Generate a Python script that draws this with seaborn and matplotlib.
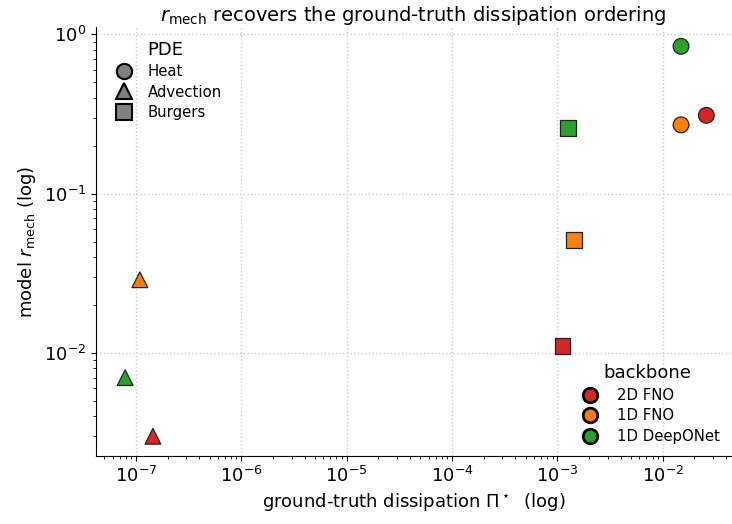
import pandas as pd
import matplotlib
matplotlib.use('Agg')
import matplotlib.pyplot as plt
import seaborn as sns
from matplotlib.lines import Line2D

# values
backbone = ['1D DeepONet', '2D FNO', '1D FNO',
            '1D DeepONet', '1D FNO', '2D FNO',
            '1D FNO', '1D DeepONet', '2D FNO']
pde = ['Heat', 'Heat', 'Heat',
       'Burgers', 'Burgers', 'Burgers',
       'Advection', 'Advection', 'Advection']
pi_star = [0.0149, 0.0259, 0.0149,
           0.00127, 0.00144, 0.00112,
           1.09e-7, 7.9e-8, 1.45e-7]
r_mech = [0.84, 0.31, 0.27,
          0.257, 0.051, 0.0111,
          0.0288, 0.0070, 0.0030]

backbones = ['2D FNO', '1D FNO', '1D DeepONet']
pdes = ['Heat', 'Advection', 'Burgers']
colors = {'2D FNO': 'tab:red', '1D FNO': 'tab:orange', '1D DeepONet': 'tab:green'}
marks = {'Heat': 'o', 'Advection': '^', 'Burgers': 's'}

df = pd.DataFrame({'backbone': backbone, 'pde': pde, 'pi': pi_star, 'r': r_mech})

sns.set_style('ticks', {'text.color': 'black', 'axes.labelcolor': 'black',
                        'xtick.color': 'black', 'ytick.color': 'black',
                        'axes.edgecolor': 'black'})
fig, ax = plt.subplots(figsize=(7.32, 5.24), dpi=100)
fig.subplots_adjust(left=0.131, right=0.999, bottom=0.130, top=0.948)

sns.scatterplot(data=df, x='pi', y='r', hue='backbone', style='pde',
                palette=colors, markers=marks, s=128,
                edgecolor='#222222', linewidth=0.9, legend=False, ax=ax, zorder=3)

ax.set_xscale('log')
ax.set_yscale('log')
ax.set_xlim(10**-7.38, 10**-1.35)
ax.set_ylim(10**-2.646, 10**0.044)
ax.grid(True, which='major', linestyle=':', color='#cccccc', linewidth=1)
sns.despine(ax=ax)
ax.tick_params(axis='both', which='major', labelsize=13)

ax.set_xlabel(r'ground-truth dissipation $\Pi^\star$  (log)', fontsize=13)
ax.set_ylabel(r'model $r_{\mathrm{mech}}$ (log)', fontsize=13)
ax.set_title(r'$r_{\mathrm{mech}}$ recovers the ground-truth dissipation ordering',
             fontsize=14, pad=4)

pde_handles = [Line2D([], [], marker=marks[p], color='none', markerfacecolor='grey',
                      markeredgecolor='black', markeredgewidth=1.5, markersize=11, label=p)
               for p in pdes]
leg1 = ax.legend(handles=pde_handles, title='PDE', loc='upper left', frameon=False,
                 fontsize=10.7, title_fontsize=13, handletextpad=0.6, labelspacing=0.37)
ax.add_artist(leg1)

bb_handles = [Line2D([], [], marker='o', color='none', markerfacecolor=colors[b],
                     markeredgecolor='black', markeredgewidth=2, markersize=10.5, label=b)
              for b in backbones]
ax.legend(handles=bb_handles, title='backbone', loc='lower right', frameon=False,
          fontsize=10.7, title_fontsize=13, borderaxespad=0.4, labelspacing=0.37)

fig.savefig('out.png', dpi=100)
